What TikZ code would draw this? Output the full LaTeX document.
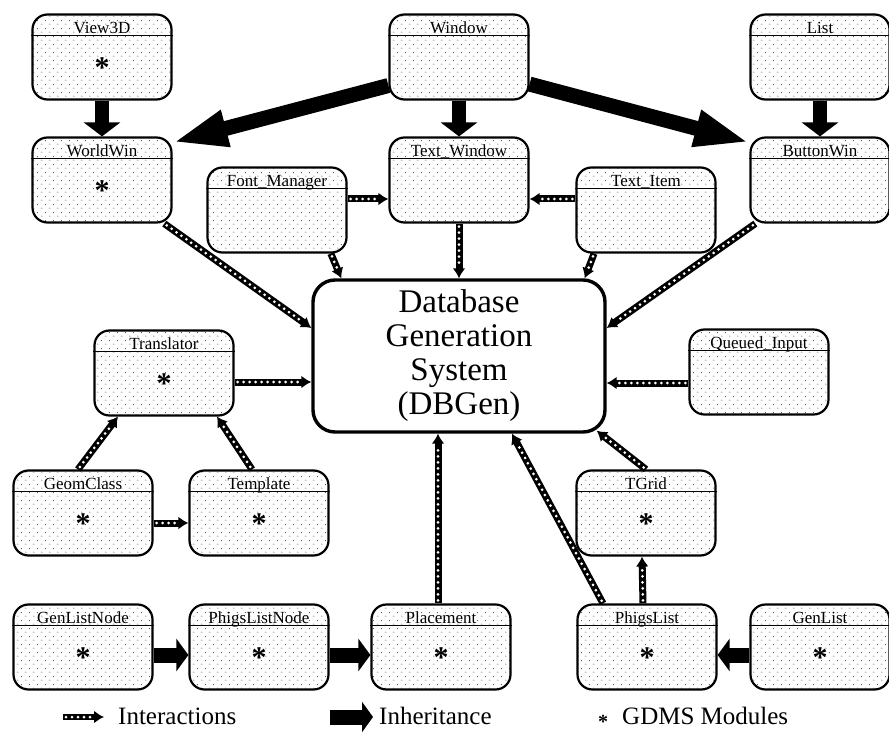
\documentclass[tikz,border=0pt]{standalone}
\usepackage{fontspec}
\setmainfont{Liberation Serif}
\usetikzlibrary{arrows.meta,patterns.meta}

\tikzdeclarepattern{
  name=gdmsdots,
  type=colored,
  bottom left={(0pt,0pt)},
  top right={(8pt,8pt)},
  tile size={(8pt,8pt)},
  code={
    \fill[black!70] (2pt,2pt) circle (0.6pt);
    \fill[black!70] (6pt,6pt) circle (0.6pt);
  }
}

\tikzset{
  module/.style={draw,line width=2.2pt,rounded corners=15pt,minimum width=139pt,
    minimum height=85pt,inner sep=0pt,pattern=gdmsdots},
  modtitle/.style={anchor=base,inner sep=0pt,font=\fontsize{17}{17}\selectfont},
  modstar/.style={inner sep=0pt,font=\bfseries\fontsize{30}{30}\selectfont},
  dbbox/.style={draw,line width=3.4pt,rounded corners=22pt,minimum width=292pt,
    minimum height=152pt,inner sep=0pt,align=center,font=\fontsize{33}{34}\selectfont},
  legtext/.style={anchor=base west,inner sep=0pt,font=\fontsize{25}{25}\selectfont},
  inh/.style={line width=14pt,-{Triangle[length=14pt,width=36pt]}},
  inhh/.style={line width=15pt,-{Triangle[length=12pt,width=32pt]}},
  inhd/.style={line width=15pt,-{Triangle[length=55pt,width=34pt]}},
  inter/.style={line width=7pt,-{Latex[length=10pt,width=13pt]},
    postaction={draw=white,line width=3pt,arrows=-,line cap=round,
      dash pattern=on 0pt off 6pt,shorten >=11pt,shorten <=3pt}},
}

\newcommand{\modbox}[4]{%
  \node[module] (#1) at (#2,#3) {};
  \draw[line width=1.4pt] ([yshift=-22pt]#1.north west) -- ([yshift=-22pt]#1.north east);
  \node[modtitle] (#1-t) at ([yshift=-20pt]#1.north) {#4};
}
\newcommand{\gdms}[1]{\node[modstar] (#1-s) at ([yshift=-11pt]#1.center) {*};}

\begin{document}
\begin{tikzpicture}[x=1pt,y=-1pt]
  \useasboundingbox (0,0) rectangle (889,738);

  % Knoten
  \modbox{view}{102}{57}{View3D}
  \modbox{window}{459}{57}{Window}
  \modbox{list}{820}{57}{List}
  \modbox{worldwin}{102}{180}{WorldWin}
  \modbox{textwin}{459}{180}{Text\_Window}
  \modbox{button}{820}{180}{ButtonWin}
  \modbox{font}{277}{210}{Font\_Manager}
  \modbox{item}{646}{210}{Text\_Item}
  \modbox{trans}{164}{373}{Translator}
  \modbox{queued}{759}{372}{Queued\_Input}
  \modbox{geom}{83}{513}{GeomClass}
  \modbox{templ}{259}{513}{Template}
  \modbox{tgrid}{646}{513}{TGrid}
  \modbox{genln}{83}{647}{GenListNode}
  \modbox{phigsln}{259}{647}{PhigsListNode}
  \modbox{place}{441}{647}{Placement}
  \modbox{phigsl}{647}{647}{PhigsList}
  \modbox{genl}{820}{647}{GenList}
  \node[dbbox] (dbgen) at (459,356) {Database\\Generation\\System\\(DBGen)};

  % GDMS-Module
  \gdms{view}
  \gdms{worldwin}
  \gdms{trans}
  \gdms{geom}
  \gdms{templ}
  \gdms{tgrid}
  \gdms{genln}
  \gdms{phigsln}
  \gdms{place}
  \gdms{phigsl}
  \gdms{genl}

  % Vererbung
  \draw[inh] (view.south) -- (worldwin.north);
  \draw[inhd] (window.202) -- (worldwin.28);
  \draw[inh] (window.south) -- (textwin.north);
  \draw[inhd] (window.339) -- (button.152);
  \draw[inh] (list.south) -- (button.north);
  \draw[inhh] ([yshift=-8pt]genln.east) -- ([yshift=-8pt]phigsln.west);
  \draw[inhh] ([yshift=-8pt]phigsln.east) -- ([yshift=-8pt]place.west);
  \draw[inhh] ([yshift=-8pt]genl.west) -- ([yshift=-8pt]phigsl.east);

  % Interaktionen
  \coordinate (fm-r) at ([yshift=11pt]font.east);
  \draw[inter] (fm-r) -- (fm-r -| textwin.west);
  \coordinate (ti-l) at ([yshift=11pt]item.west);
  \draw[inter] (ti-l) -- (ti-l -| textwin.east);
  \draw[inter] (textwin.south) -- (dbgen.north);
  \draw[inter] (font.-39) -- ([xshift=30pt]dbgen.north west);
  \draw[inter] (item.220) -- ([xshift=-22pt]dbgen.north east);
  \draw[inter] (worldwin.-35) -- ([yshift=28pt]dbgen.west);
  \draw[inter] (button.214) -- ([yshift=28pt]dbgen.east);
  \coordinate (tr-r) at ([yshift=-9pt]trans.east);
  \draw[inter] (tr-r) -- (tr-r -| dbgen.west);
  \coordinate (qi-l) at ([yshift=-11pt]queued.west);
  \draw[inter] (qi-l) -- (qi-l -| dbgen.east);
  \draw[inter] ([xshift=-5pt]geom.north) -- ([xshift=-46pt]trans.south);
  \draw[inter] ([xshift=-7pt]templ.north) -- ([xshift=53pt]trans.south);
  \coordinate (gc-r) at ([yshift=-10pt]geom.east);
  \draw[inter] (gc-r) -- (gc-r -| templ.west);
  \draw[inter] ([xshift=-3pt]place.north) -- ([xshift=-21pt]dbgen.south);
  \draw[inter] ([xshift=-44pt]phigsl.north) -- ([xshift=53pt]dbgen.south);
  \draw[inter] (tgrid.north) -- ([xshift=-10pt,yshift=3pt]dbgen.south east);
  \draw[inter] ([xshift=-4pt]phigsl.north) -- ([xshift=-4pt]tgrid.south);

  % Legende
  \coordinate (li-a) at (63,717);
  \coordinate (li-b) at (104,717);
  \draw[inter,line width=6pt] (li-a) -- (li-b);
  \node[legtext] (li-t) at (118,724) {Interactions};
  \coordinate (lh-a) at (330,717);
  \coordinate (lh-b) at (373,717);
  \draw[inhh,-{Triangle[length=11pt,width=30pt]}] (lh-a) -- (lh-b);
  \node[legtext] (lh-t) at (379,724) {Inheritance};
  \node[modstar,font=\bfseries\fontsize{20}{20}\selectfont] (lg-s) at (603,722) {*};
  \node[legtext] (lg-t) at (622,724) {GDMS Modules};
\end{tikzpicture}
\end{document}
